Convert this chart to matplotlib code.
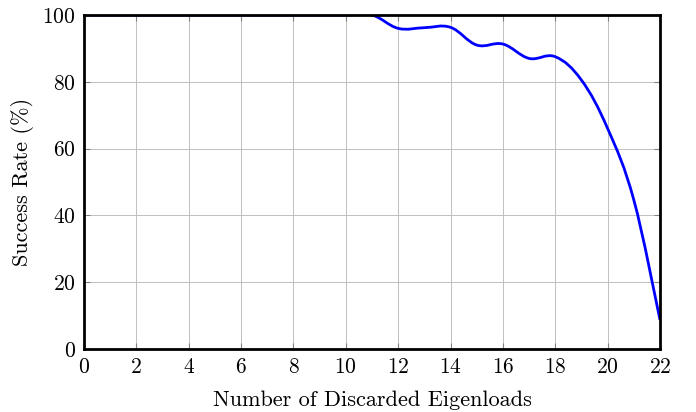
import matplotlib
matplotlib.use("Agg")
import matplotlib.pyplot as plt
import numpy as np
from matplotlib.path import Path
from matplotlib.patches import PathPatch

# Datos
descartados = list(range(0, 23))
tasa_exito = [100, 100, 100, 100, 100, 100, 100, 100, 100, 100, 100, 100,
              96.0, 96.2, 96.3, 91.0, 91.3, 87.0, 87.5, 80.5, 66.0, 44.6, 8.7]
xticks = list(range(0, 23, 2))
yticks = [0, 20, 40, 60, 80, 100]

plt.rcParams["font.family"] = "cmr10"
plt.rcParams["axes.formatter.use_mathtext"] = True
plt.rcParams["font.size"] = 15.5


def camino_suave(x, y, tension=0.183):
    # curva tipo "smooth" de TikZ: bezier cúbica entre puntos consecutivos
    pts = np.column_stack([x, y]).astype(float)
    n = len(pts)
    verts = [pts[0]]
    codes = [Path.MOVETO]
    for i in range(n - 1):
        p0 = pts[i - 1] if i > 0 else pts[i]
        p1 = pts[i]
        p2 = pts[i + 1]
        p3 = pts[i + 2] if i + 2 < n else pts[i + 1]
        c1 = p1 + tension * (p2 - p0)
        c2 = p2 - tension * (p3 - p1)
        verts += [c1, c2, p2]
        codes += [Path.CURVE4] * 3
    return Path(verts, codes)


fig = plt.figure(figsize=(6.96, 4.12), dpi=100)
ax = fig.add_axes([0.1207, 0.1529, 0.8276, 0.8107])

curva = PathPatch(camino_suave(descartados, tasa_exito), facecolor="none",
                  edgecolor="#0000ff", linewidth=2.0, zorder=3,
                  transform=ax.transData, capstyle="butt")
ax.add_patch(curva)

ax.set_xlim(0, 22)
ax.set_ylim(0, 100)
ax.set_xticks(xticks)
ax.set_yticks(yticks)
ax.grid(True, color="#c0c0c0", linewidth=0.7)
ax.set_axisbelow(True)
ax.tick_params(direction="in", length=4, width=0.8, color="#808080",
               top=True, right=True, pad=6)
for s in ax.spines.values():
    s.set_linewidth(2.0)
    s.set_zorder(4)

ax.set_xlabel("Number of Discarded Eigenloads", labelpad=10, fontsize=16)
ax.set_ylabel("Success Rate (%)", labelpad=6, fontsize=16)

fig.savefig("out.png", dpi=100)
